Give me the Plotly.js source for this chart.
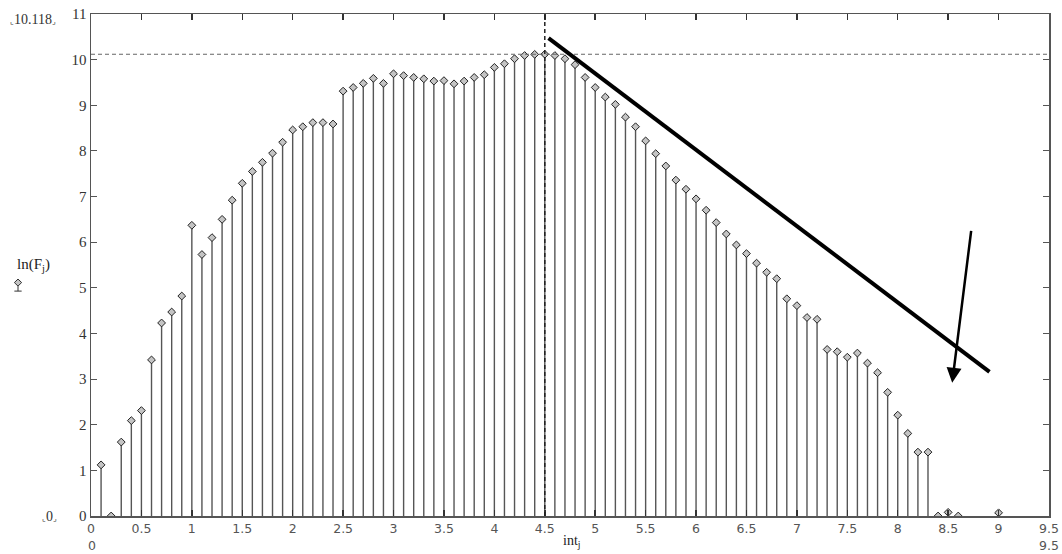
<!DOCTYPE html>
<html>
<head>
<meta charset="utf-8">
<script src="https://cdn.plot.ly/plotly-3.0.1.min.js"></script>
<style>html,body{margin:0;padding:0;background:#fff;}#chart{width:1062px;height:554px;}</style>
</head>
<body>
<div id="chart"></div>
<script>
// ---- data ----
var intj = [0.1,0.2,0.3,0.4,0.5,0.6,0.7,0.8,0.9,1.0,
            1.1,1.2,1.3,1.4,1.5,1.6,1.7,1.8,1.9,2.0,
            2.1,2.2,2.3,2.4,2.5,2.6,2.7,2.8,2.9,3.0,
            3.1,3.2,3.3,3.4,3.5,3.6,3.7,3.8,3.9,4.0,
            4.1,4.2,4.3,4.4,4.5,4.6,4.7,4.8,4.9,5.0,
            5.1,5.2,5.3,5.4,5.5,5.6,5.7,5.8,5.9,6.0,
            6.1,6.2,6.3,6.4,6.5,6.6,6.7,6.8,6.9,7.0,
            7.1,7.2,7.3,7.4,7.5,7.6,7.7,7.8,7.9,8.0,
            8.1,8.2,8.3,8.4,8.5,8.6,9.0];
var lnF = [1.12,0.0,1.62,2.09,2.31,3.42,4.23,4.47,4.82,6.37,
           5.73,6.10,6.50,6.92,7.29,7.55,7.75,7.95,8.19,8.46,
           8.53,8.62,8.62,8.59,9.31,9.39,9.48,9.59,9.48,9.69,
           9.65,9.61,9.58,9.53,9.54,9.47,9.53,9.61,9.67,9.83,
           9.91,10.02,10.09,10.115,10.118,10.09,10.02,9.89,9.61,9.39,
           9.18,9.02,8.74,8.53,8.22,7.94,7.67,7.36,7.16,6.95,
           6.70,6.43,6.18,5.94,5.75,5.54,5.34,5.20,4.76,4.61,
           4.35,4.31,3.65,3.60,3.48,3.57,3.35,3.14,2.71,2.21,
           1.81,1.40,1.40,0.0,0.08,0.0,0.07];
var maxVal = 10.118;
var maxPos = 4.5;
var xMin = 0, xMax = 9.5, yMin = 0, yMax = 11;
var xTicks = [0,0.5,1,1.5,2,2.5,3,3.5,4,4.5,5,5.5,6,6.5,7,7.5,8,8.5,9,9.5];
var yTicks = [0,1,2,3,4,5,6,7,8,9,10,11];

// stems built from the data
var sx = [], sy = [];
for (var i = 0; i < intj.length; i++) {
  sx.push(intj[i], intj[i], null);
  sy.push(0, lnF[i], null);
}

var stems = {
  x: sx, y: sy, type: 'scatter', mode: 'lines',
  line: {color: '#555', width: 1.4}, hoverinfo: 'skip', showlegend: false
};
var pts = {
  x: intj, y: lnF, type: 'scatter', mode: 'markers',
  marker: {symbol: 'diamond', size: 6, color: '#c4c4c4', line: {color: '#222', width: 1}},
  showlegend: false
};

var serif = 'Liberation Serif, Times New Roman, serif';
var sans = 'DejaVu Sans, Verdana, sans-serif';

var layout = {
  width: 1062, height: 554,
  margin: {l: 91, r: 13, t: 14, b: 38},
  paper_bgcolor: '#fff', plot_bgcolor: '#fff',
  showlegend: false,
  xaxis: {
    range: [xMin, xMax], tickvals: xTicks, ticktext: xTicks.map(String),
    ticks: 'inside', ticklen: 6, tickcolor: '#333', tickwidth: 1.5,
    showline: true, linecolor: '#555', linewidth: 1.5, mirror: 'ticks',
    showgrid: false, zeroline: false,
    tickfont: {family: sans, size: 12.5, color: '#555'}
  },
  yaxis: {
    range: [yMin, yMax], tickvals: yTicks, ticktext: yTicks.map(String),
    ticks: 'inside', ticklen: 6, tickcolor: '#555', tickwidth: 1,
    showline: true, linecolor: '#555', linewidth: 1.5, mirror: 'ticks',
    showgrid: false, zeroline: false,
    tickfont: {family: serif, size: 15, color: '#333'}
  },
  shapes: [
    {type: 'line', xref: 'x', yref: 'y', x0: xMin, x1: xMax, y0: maxVal, y1: maxVal,
     line: {color: '#666', width: 1, dash: '4px,3px'}},
    {type: 'line', xref: 'x', yref: 'y', x0: maxPos, x1: maxPos, y0: yMin, y1: yMax,
     line: {color: '#222', width: 1.5, dash: '4px,3px'}},
    {type: 'line', xref: 'x', yref: 'y', x0: 4.537, y0: 10.47, x1: 8.91, y1: 3.16,
     line: {color: '#000', width: 4}},
    {type: 'path', xref: 'paper', yref: 'paper',
     path: 'M -0.0762 0.472 L -0.0724 0.465 L -0.0762 0.458 L -0.0800 0.465 Z',
     fillcolor: '#c4c4c4', line: {color: '#333', width: 1}},
    {type: 'line', xref: 'paper', yref: 'paper', x0: -0.0762, x1: -0.0762, y0: 0.458, y1: 0.448,
     line: {color: '#333', width: 1}},
    {type: 'line', xref: 'paper', yref: 'paper', x0: -0.0800, x1: -0.0724, y0: 0.448, y1: 0.448,
     line: {color: '#333', width: 1}}
  ],
  annotations: [
    {xref: 'x', yref: 'y', x: 8.54, y: 2.92, ax: 8.73, ay: 6.28, axref: 'x', ayref: 'y',
     text: '', showarrow: true, arrowhead: 2, arrowsize: 1.2, arrowwidth: 2.5, arrowcolor: '#000'},
    {xref: 'paper', yref: 'paper', x: -0.0605, y: 0.99, xanchor: 'center', yanchor: 'middle',
     text: '<span style="font-size:8px">⌞</span>10.118<span style="font-size:8px">⌟</span>',
     showarrow: false, font: {family: serif, size: 14, color: '#333'}},
    {xref: 'paper', yref: 'paper', x: -0.043, y: 0.0, xanchor: 'center', yanchor: 'middle',
     text: '<span style="font-size:8px">⌞</span>0<span style="font-size:8px">⌟</span>',
     showarrow: false, font: {family: serif, size: 14, color: '#333'}},
    {xref: 'paper', yref: 'paper', x: 0.0015, y: -0.058, text: '0', xanchor: 'center', yanchor: 'middle',
     showarrow: false, font: {family: sans, size: 12.5, color: '#555'}},
    {xref: 'paper', yref: 'paper', x: 1.0, y: -0.058, text: '9.5', xanchor: 'center', yanchor: 'middle',
     showarrow: false, font: {family: sans, size: 12.5, color: '#555'}},
    {xref: 'paper', yref: 'paper', x: 0.5025, y: -0.05, text: 'int<sub>j</sub>', xanchor: 'center', yanchor: 'middle',
     showarrow: false, font: {family: serif, size: 14, color: '#222'}},
    {xref: 'paper', yref: 'paper', x: -0.0605, y: 0.5, text: 'ln(F<sub>j</sub>)', xanchor: 'center', yanchor: 'middle',
     showarrow: false, font: {family: serif, size: 15, color: '#222'}}
  ]
};

Plotly.newPlot('chart', [stems, pts], layout, {displayModeBar: false, staticPlot: true});
</script>
</body>
</html>
